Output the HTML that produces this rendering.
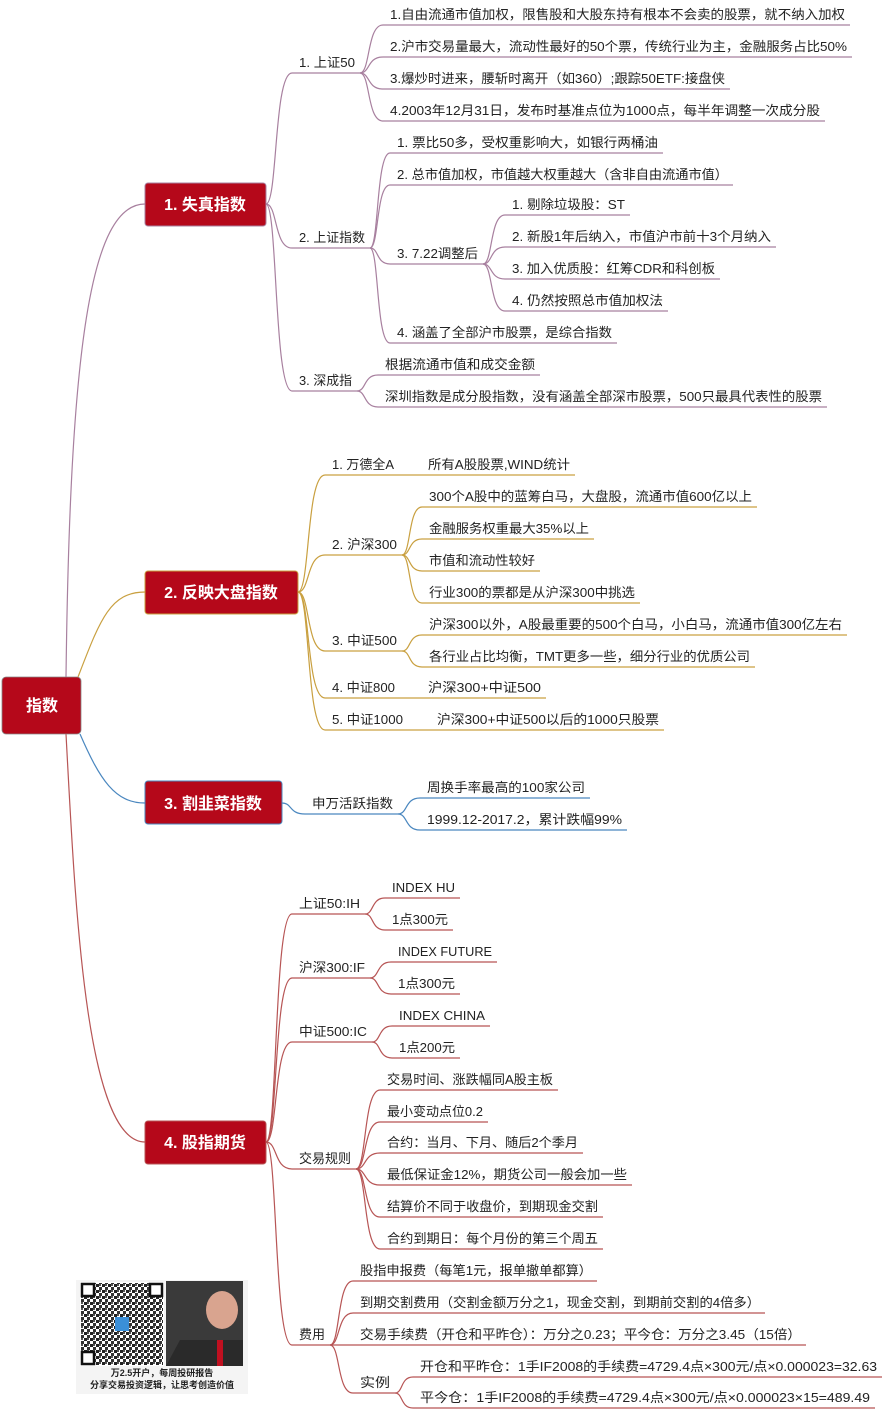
<!DOCTYPE html>
<html><head><meta charset="utf-8"><style>
html,body{margin:0;padding:0;background:#fff;width:883px;height:1409px;overflow:hidden}
svg{display:block}
text{font-family:"Liberation Sans","Noto Sans CJK SC",sans-serif;font-size:13px;fill:#222}
.bx{font-size:16px;font-weight:bold;fill:#fff}
</style></head><body>
<svg id="s" width="883" height="1409" xmlns="http://www.w3.org/2000/svg">
<g fill="none" stroke-width="1.2">
<path d="M66 677 C70 350 90 204 145 204" stroke="#a8809f"/>
<path d="M78 677 C100 620 110 592 145 592" stroke="#c9a040"/>
<path d="M80 734 C100 780 115 803 145 803" stroke="#4a87bf"/>
<path d="M66 734 C75 900 85 1142 145 1142" stroke="#b75555"/>
</g>
<rect x="2" y="677" width="79" height="57" rx="4" fill="#b5081a" stroke="#888" stroke-width="0.8"/>
<text x="42" y="711" class="bx" text-anchor="middle">指数</text>
<rect x="145" y="183" width="121" height="43" rx="3" fill="#b5081a" stroke="#a8809f"/>
<text x="205" y="210" class="bx" text-anchor="middle">1. 失真指数</text>
<rect x="145" y="571" width="153" height="43" rx="3" fill="#b5081a" stroke="#c9a040"/>
<text x="221" y="598" class="bx" text-anchor="middle">2. 反映大盘指数</text>
<rect x="145" y="781" width="137" height="43" rx="3" fill="#b5081a" stroke="#4a87bf"/>
<text x="213" y="809" class="bx" text-anchor="middle">3. 割韭菜指数</text>
<rect x="145" y="1121" width="121" height="43" rx="3" fill="#b5081a" stroke="#b75555"/>
<text x="205" y="1148" class="bx" text-anchor="middle">4. 股指期货</text>
<g id="g"></g>
<rect x="76" y="1280" width="172" height="114" fill="#f4f4f4"/>
<rect x="80" y="1282" width="84" height="84" fill="#fff"/>
<defs><pattern id="qr" width="6" height="6" patternUnits="userSpaceOnUse"><rect width="3" height="3" fill="#222"/><rect x="3" y="3" width="3" height="3" fill="#333"/><rect x="3" y="0" width="2" height="2" fill="#555"/></pattern></defs>
<rect x="81" y="1283" width="82" height="82" fill="url(#qr)"/>
<rect x="82" y="1284" width="12" height="12" fill="#fff" stroke="#111" stroke-width="2.5"/>
<rect x="150" y="1284" width="12" height="12" fill="#fff" stroke="#111" stroke-width="2.5"/>
<rect x="82" y="1352" width="12" height="12" fill="#fff" stroke="#111" stroke-width="2.5"/>
<rect x="115" y="1317" width="14" height="14" fill="#3a8fd8"/>
<rect x="166" y="1281" width="77" height="85" fill="#3a3a3a"/>
<ellipse cx="222" cy="1310" rx="16" ry="19" fill="#d9a48f"/>
<path d="M166 1366 L180 1340 L243 1340 L243 1366Z" fill="#2a2a2a"/>
<rect x="217" y="1340" width="6" height="26" fill="#c01020"/>
<text x="162" y="1376" text-anchor="middle" style="font-size:9px;font-weight:bold">万2.5开户，每周投研报告</text>
<text x="162" y="1388" text-anchor="middle" style="font-size:9px;font-weight:bold">分享交易投资逻辑，让思考创造价值</text>
</svg>
<script>
var C1="#a8809f",C2="#c9a040",C3="#4a87bf",C4="#b75555";
var N=[];
function n(t,s,y,e,p,c,tw){N.push([t,s,y,e,p,c,tw]);return N.length-1;}
var a;
a=n("1. 上证50",292,73,360,[266,204],C1);
n("1.自由流通市值加权，限售股和大股东持有根本不会卖的股票，就不纳入加权",383,25,850,a,C1);
n("2.沪市交易量最大，流动性最好的50个票，传统行业为主，金融服务占比50%",383,57,852,a,C1);
n("3.爆炒时进来，腰斩时离开（如360）;跟踪50ETF:接盘侠",383,89,730,a,C1);
n("4.2003年12月31日，发布时基准点位为1000点，每半年调整一次成分股",383,121,825,a,C1);
a=n("2. 上证指数",292,248,370,[266,204],C1);
n("1. 票比50多，受权重影响大，如银行两桶油",390,153,663,a,C1);
n("2. 总市值加权，市值越大权重越大（含非自由流通市值）",390,185,733,a,C1);
var b=n("3. 7.22调整后",390,264,483,a,C1);
n("1. 剔除垃圾股：ST",505,215,630,b,C1);
n("2. 新股1年后纳入，市值沪市前十3个月纳入",505,247,776,b,C1);
n("3. 加入优质股：红筹CDR和科创板",505,279,720,b,C1);
n("4. 仍然按照总市值加权法",505,311,668,b,C1);
n("4. 涵盖了全部沪市股票，是综合指数",390,343,617,a,C1);
a=n("3. 深成指",292,391,357,[266,204],C1);
n("根据流通市值和成交金额",378,375,540,a,C1);
n("深圳指数是成分股指数，没有涵盖全部深市股票，500只最具代表性的股票",378,407,827,a,C1);
var P2=[298,592];
a=n("1. 万德全A",325,475,415,P2,C2,62);
n("所有A股股票,WIND统计",421,475,575,a,C2);
a=n("2. 沪深300",325,555,402,P2,C2);
n("300个A股中的蓝筹白马，大盘股，流通市值600亿以上",422,507,757,a,C2);
n("金融服务权重最大35%以上",422,539,594,a,C2);
n("市值和流动性较好",422,571,540,a,C2);
n("行业300的票都是从沪深300中挑选",422,603,640,a,C2);
a=n("3. 中证500",325,651,402,P2,C2);
n("沪深300以外，A股最重要的500个白马，小白马，流通市值300亿左右",422,635,847,a,C2);
n("各行业占比均衡，TMT更多一些，细分行业的优质公司",422,667,755,a,C2);
a=n("4. 中证800",325,698,415,P2,C2,63);
n("沪深300+中证500",421,698,546,a,C2);
a=n("5. 中证1000",325,730,422,P2,C2,71);
n("沪深300+中证500以后的1000只股票",430,730,664,a,C2);
a=n("申万活跃指数",305,814,398,[282,803],C3);
n("周换手率最高的100家公司",420,798,590,a,C3);
n("1999.12-2017.2，累计跌幅99%",420,830,627,a,C3);
var P4=[266,1142];
a=n("上证50:IH",292,914,365,P4,C4);
n("INDEX HU",385,898,460,a,C4);n("1点300元",385,930,453,a,C4);
a=n("沪深300:IF",292,978,370,P4,C4);
n("INDEX FUTURE",391,962,497,a,C4);n("1点300元",391,994,460,a,C4);
a=n("中证500:IC",292,1042,372,P4,C4);
n("INDEX CHINA",392,1026,490,a,C4);n("1点200元",392,1058,460,a,C4);
a=n("交易规则",292,1169,356,P4,C4);
n("交易时间、涨跌幅同A股主板",380,1090,558,a,C4);
n("最小变动点位0.2",380,1122,488,a,C4);
n("合约：当月、下月、随后2个季月",380,1153,583,a,C4);
n("最低保证金12%，期货公司一般会加一些",380,1185,632,a,C4);
n("结算价不同于收盘价，到期现金交割",380,1217,603,a,C4);
n("合约到期日：每个月份的第三个周五",380,1249,603,a,C4);
a=n("费用",292,1345,330,P4,C4);
n("股指申报费（每笔1元，报单撤单都算）",353,1281,597,a,C4);
n("到期交割费用（交割金额万分之1，现金交割，到期前交割的4倍多）",353,1313,765,a,C4);
n("交易手续费（开仓和平昨仓）：万分之0.23；平今仓：万分之3.45（15倍）",353,1345,806,a,C4);
b=n("实例",353,1393,395,a,C4);
n("开仓和平昨仓：1手IF2008的手续费=4729.4点×300元/点×0.000023=32.63",413,1377,882,b,C4);
n("平今仓：1手IF2008的手续费=4729.4点×300元/点×0.000023×15=489.49",413,1408,875,b,C4);
var h="";
N.forEach(function(d){
 var p=d[4],px,py;
 if(typeof p==="number"){px=N[p][3];py=N[p][2];}else{px=p[0];py=p[1];}
 var cx=d[1],cy=d[2],dx=cx-px;
 h+='<path d="M'+px+' '+py+' C'+(px+dx*0.45)+' '+py+' '+(px+dx*0.3)+' '+cy+' '+cx+' '+cy+' L'+d[3]+' '+cy+'" fill="none" stroke="'+d[5]+'" stroke-width="1.2"/>';
 var tx=cx+7,w=d[6]||(d[3]-tx-5);
 h+='<text x="'+tx+'" y="'+(cy-6)+'" textLength="'+w+'" lengthAdjust="spacingAndGlyphs">'+d[0]+'</text>';
});
document.getElementById("g").innerHTML=h;
</script>
</body></html>
